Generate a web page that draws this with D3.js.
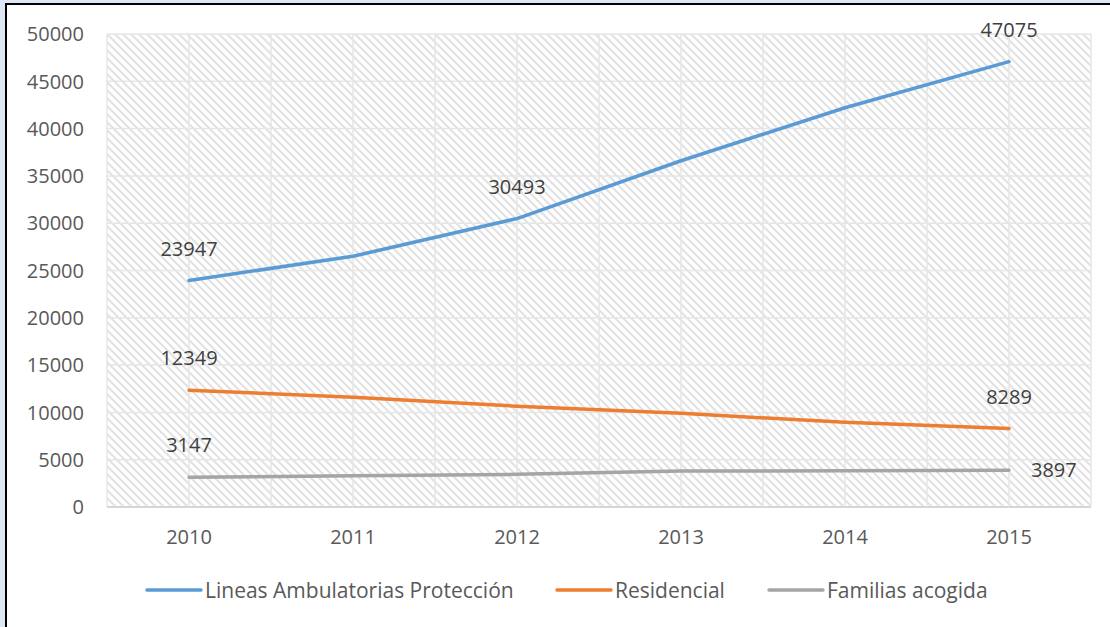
<!DOCTYPE html>
<html>
<head>
<meta charset="utf-8">
<script src="https://cdn.jsdelivr.net/npm/d3@7"></script>
<style>
  body { margin: 0; background: #dde7f3; }
  svg { display: block; font-family: "Open Sans", Lato, sans-serif; }
</style>
</head>
<body>
<div id="chart"></div>
<script>
// data
var years = ["2010", "2011", "2012", "2013", "2014", "2015"];
var seriesNames = ["Lineas Ambulatorias Protección", "Residencial", "Familias acogida"];
var ambulatorias = [23947, 26500, 30493, 36600, 42200, 47075];
var residencial = [12349, 11600, 10650, 9900, 8950, 8289];
var familias = [3147, 3300, 3450, 3800, 3820, 3897];
var yTicks = [0, 5000, 10000, 15000, 20000, 25000, 30000, 35000, 40000, 45000, 50000];
// which points carry a value label, per series
var labelIdx = [[0, 2, 5], [0, 5], [0, 5]];
var colors = ["#5b9bd5", "#ed7d31", "#a5a5a5"];

var W = 1110, H = 627;
var margin = {top: 34, right: 19, bottom: 120, left: 107},
    width = W - margin.left - margin.right,
    height = H - margin.top - margin.bottom;

var svg = d3.select("#chart").append("svg")
    .attr("width", W)
    .attr("height", H);

// frame: light blue outside, black border
svg.append("rect").attr("width", W).attr("height", H).attr("fill", "#dde7f3");
svg.append("rect")
    .attr("x", 6).attr("y", 4)
    .attr("width", W + 10).attr("height", H + 10)
    .attr("fill", "#fff")
    .attr("stroke", "#000")
    .attr("stroke-width", 2);

// diagonal hatch for the plot area
var defs = svg.append("defs");
var pat = defs.append("pattern")
    .attr("id", "hatch")
    .attr("patternUnits", "userSpaceOnUse")
    .attr("width", 8).attr("height", 8);
pat.append("rect").attr("width", 8).attr("height", 8).attr("fill", "#fff");
pat.append("path")
    .attr("d", "M-2,6L2,10M0,0L8,8M6,-2L10,2")
    .attr("stroke", "#e2e2e2")
    .attr("stroke-width", 2);

var g = svg.append("g")
    .attr("transform", "translate(" + margin.left + "," + margin.top + ")");

var x = d3.scalePoint().domain(years).range([0, width]).padding(0.5);
var y = d3.scaleLinear().domain([0, 50000]).range([height, 0]);

g.append("rect")
    .attr("width", width).attr("height", height)
    .attr("fill", "url(#hatch)");

// horizontal grid
g.selectAll(".hgrid")
    .data(yTicks)
    .enter().append("line")
    .attr("x1", 0).attr("x2", width)
    .attr("y1", function(d) { return y(d); })
    .attr("y2", function(d) { return y(d); })
    .attr("stroke", function(d) { return d === 0 ? "#d6d6d6" : "#e6e6e6"; })
    .attr("stroke-width", function(d) { return d === 0 ? 2 : 1.5; });

// vertical grid at category centres and edges
var half = x.step() / 2;
var vgrid = [];
years.forEach(function(yr, i) {
    if (i === 0) vgrid.push(x(yr) - half);
    vgrid.push(x(yr));
    vgrid.push(x(yr) + half);
});
g.selectAll(".vgrid")
    .data(vgrid)
    .enter().append("line")
    .attr("x1", function(d) { return d; })
    .attr("x2", function(d) { return d; })
    .attr("y1", 0).attr("y2", height)
    .attr("stroke", "#e6e6e6")
    .attr("stroke-width", 1.5);

// y axis labels
g.selectAll(".ylab")
    .data(yTicks)
    .enter().append("text")
    .attr("x", -23)
    .attr("y", function(d) { return y(d); })
    .attr("dy", "0.36em")
    .attr("text-anchor", "end")
    .attr("font-size", "20px")
    .attr("fill", "#595959")
    .text(function(d) { return d; });

// x axis labels
g.selectAll(".xlab")
    .data(years)
    .enter().append("text")
    .attr("x", function(d) { return x(d); })
    .attr("y", height + 30)
    .attr("dy", "0.36em")
    .attr("text-anchor", "middle")
    .attr("font-size", "20px")
    .attr("fill", "#595959")
    .text(function(d) { return d; });

var allSeries = [ambulatorias, residencial, familias];

var line = d3.line()
    .x(function(d, i) { return x(years[i]); })
    .y(function(d) { return y(d); });

allSeries.forEach(function(vals, s) {
    g.append("path")
        .attr("d", line(vals))
        .attr("fill", "none")
        .attr("stroke", colors[s])
        .attr("stroke-width", 3.5)
        .attr("stroke-linejoin", "round")
        .attr("stroke-linecap", "round");

    labelIdx[s].forEach(function(i) {
        // last grey label sits to the right of the point
        var right = (s === 2 && i === years.length - 1);
        g.append("text")
            .attr("x", right ? x(years[i]) + 22 : x(years[i]))
            .attr("y", right ? y(vals[i]) : y(vals[i]) - 32)
            .attr("dy", "0.36em")
            .attr("text-anchor", right ? "start" : "middle")
            .attr("font-size", "20px")
            .attr("fill", "#404040")
            .text(vals[i]);
    });
});

// legend
var legendX = [147, 557, 769];
var legend = svg.append("g").attr("transform", "translate(0,590)");
seriesNames.forEach(function(name, s) {
    legend.append("line")
        .attr("x1", legendX[s]).attr("x2", legendX[s] + 54)
        .attr("y1", 0).attr("y2", 0)
        .attr("stroke", colors[s])
        .attr("stroke-width", 3.5)
        .attr("stroke-linecap", "round");
    legend.append("text")
        .attr("x", legendX[s] + 58)
        .attr("y", 0)
        .attr("dy", "0.36em")
        .attr("font-size", "21px")
        .attr("fill", "#595959")
        .text(name);
});
</script>
</body>
</html>
